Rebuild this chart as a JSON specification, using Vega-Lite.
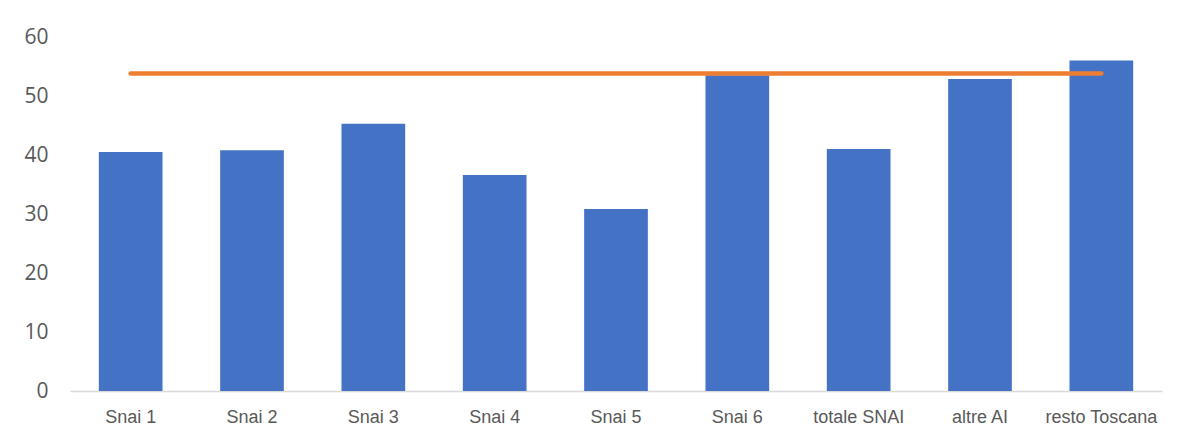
{
  "$schema": "https://vega.github.io/schema/vega-lite/v6.json",
  "width": 1092,
  "height": 354,
  "autosize": {"type": "none"},
  "padding": {"left": 70, "top": 37, "right": 18, "bottom": 47},
  "background": "white",
  "config": {"view": {"stroke": null}},
  "data": {
    "values": [
      {"categoria": "Snai 1", "valore": 40.5, "riferimento": 53.8},
      {"categoria": "Snai 2", "valore": 40.8, "riferimento": 53.8},
      {"categoria": "Snai 3", "valore": 45.3, "riferimento": 53.8},
      {"categoria": "Snai 4", "valore": 36.6, "riferimento": 53.8},
      {"categoria": "Snai 5", "valore": 30.85, "riferimento": 53.8},
      {"categoria": "Snai 6", "valore": 53.5, "riferimento": 53.8},
      {"categoria": "totale SNAI", "valore": 41.0, "riferimento": 53.8},
      {"categoria": "altre AI", "valore": 52.9, "riferimento": 53.8},
      {"categoria": "resto Toscana", "valore": 56.0, "riferimento": 53.8}
    ]
  },
  "encoding": {
    "x": {
      "field": "categoria",
      "type": "nominal",
      "sort": null,
      "scale": {"paddingInner": 0.475, "paddingOuter": 0.2375},
      "axis": {
        "title": null,
        "labelAngle": 0,
        "ticks": false,
        "domainColor": "#d9d9d9",
        "domainWidth": 1.5,
        "labelFont": "Liberation Sans",
        "labelFontSize": 18,
        "labelColor": "#595959",
        "labelPadding": 17
      }
    }
  },
  "layer": [
    {
      "mark": {"type": "bar", "color": "#4472C4"},
      "encoding": {
        "y": {
          "field": "valore",
          "type": "quantitative",
          "scale": {"domain": [0, 60], "nice": false},
          "axis": {
            "title": null,
            "values": [0, 10, 20, 30, 40, 50, 60],
            "grid": false,
            "domain": false,
            "ticks": false,
            "labelFont": "Open Sans",
            "labelFontSize": 21,
            "labelColor": "#595959",
            "labelPadding": 22
          }
        }
      }
    },
    {
      "mark": {"type": "line", "color": "#ED7D31", "strokeWidth": 4.5, "strokeCap": "round"},
      "encoding": {
        "y": {"field": "riferimento", "type": "quantitative"}
      }
    }
  ]
}
